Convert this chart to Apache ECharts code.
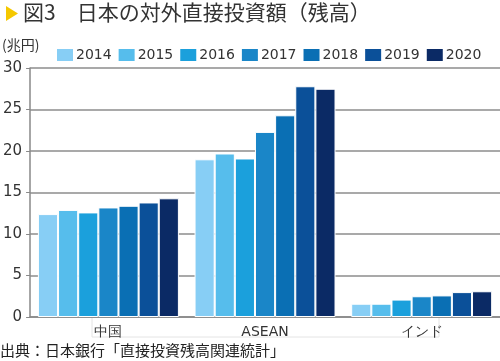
<!DOCTYPE html>
<html><head><meta charset="utf-8">
<script src="https://cdn.jsdelivr.net/npm/echarts@6/dist/echarts.min.js"></script>
<style>html,body{margin:0;padding:0;background:#fff}#c{width:500px;height:361px}</style>
</head><body><div id="c"></div>
<script>
const categories = ['中国', 'ASEAN', 'インド'];
const years = ['2014', '2015', '2016', '2017', '2018', '2019', '2020'];
const v2014 = [12.4, 19.0, 1.6];
const v2015 = [12.9, 19.7, 1.6];
const v2016 = [12.6, 19.1, 2.1];
const v2017 = [13.2, 22.3, 2.5];
const v2018 = [13.4, 24.3, 2.6];
const v2019 = [13.8, 27.8, 3.0];
const v2020 = [14.3, 27.5, 3.1];
const yTicks = [0, 5, 10, 15, 20, 25, 30];
const colors = ['#87cef5', '#56bdec', '#1ba0dc', '#1a86c8', '#0a6fb4', '#0b5099', '#0b2a65'];
const values = [v2014, v2015, v2016, v2017, v2018, v2019, v2020];
const NUMFONT = 'DejaVu Sans';
const JPFONT = 'Noto Sans CJK JP';

const chart = echarts.init(document.getElementById('c'), null, {renderer: 'canvas'});
chart.setOption({
  animation: false,
  textStyle: {fontFamily: NUMFONT},
  color: colors,
  grid: {left: 30, right: 0, top: 68, bottom: 44, containLabel: false},
  legend: {
    left: 55, top: 47, width: 445, itemWidth: 18, itemHeight: 14, itemGap: 5,
    padding: 0,
    icon: 'rect',
    textStyle: {fontSize: 14, color: '#333', fontFamily: NUMFONT, padding: [0, 0, 0, -3]},
    data: years
  },
  xAxis: {
    type: 'category', data: categories,
    axisLine: {lineStyle: {color: '#888', width: 1.5}},
    axisTick: {show: false},
    axisLabel: {fontSize: 14, color: '#333', margin: 8, fontFamily: NUMFONT}
  },
  yAxis: {
    type: 'value', min: yTicks[0], max: yTicks[yTicks.length - 1], interval: 5,
    axisLine: {show: true, lineStyle: {color: '#888', width: 1.5}},
    axisTick: {show: true, length: 4, lineStyle: {color: '#888'}},
    axisLabel: {fontSize: 15, color: '#333', margin: 8, fontFamily: NUMFONT},
    splitLine: {lineStyle: {color: '#8c8c8c', width: 1.5}}
  },
  series: years.map((y, i) => ({
    name: y, type: 'bar', data: values[i],
    barGap: '0%', barCategoryGap: '10%',
    itemStyle: {color: colors[i], borderColor: '#fff', borderWidth: 1}
  })),
  graphic: [
    {type: 'polygon', shape: {points: [[6, 6], [6, 21], [18, 13.5]]}, style: {fill: '#f5c800'}},
    {type: 'text', left: 23, top: 2, style: {text: '図3　日本の対外直接投資額（残高）', fontSize: 21, fill: '#333', fontFamily: JPFONT}},
    {type: 'text', left: 2, top: 38, style: {text: '(兆円)', fontSize: 14, fill: '#333', fontFamily: JPFONT}},
    {type: 'text', left: 0, top: 343, style: {text: '出典：日本銀行「直接投資残高関連統計」', fontSize: 15, fill: '#222', fontFamily: JPFONT}},
    {type: 'rect', z: -1, shape: {x: 92, y: 317, width: 347, height: 20}, style: {fill: 'none', stroke: '#e4e4e4', lineWidth: 1}}
  ]
});
</script></body></html>
